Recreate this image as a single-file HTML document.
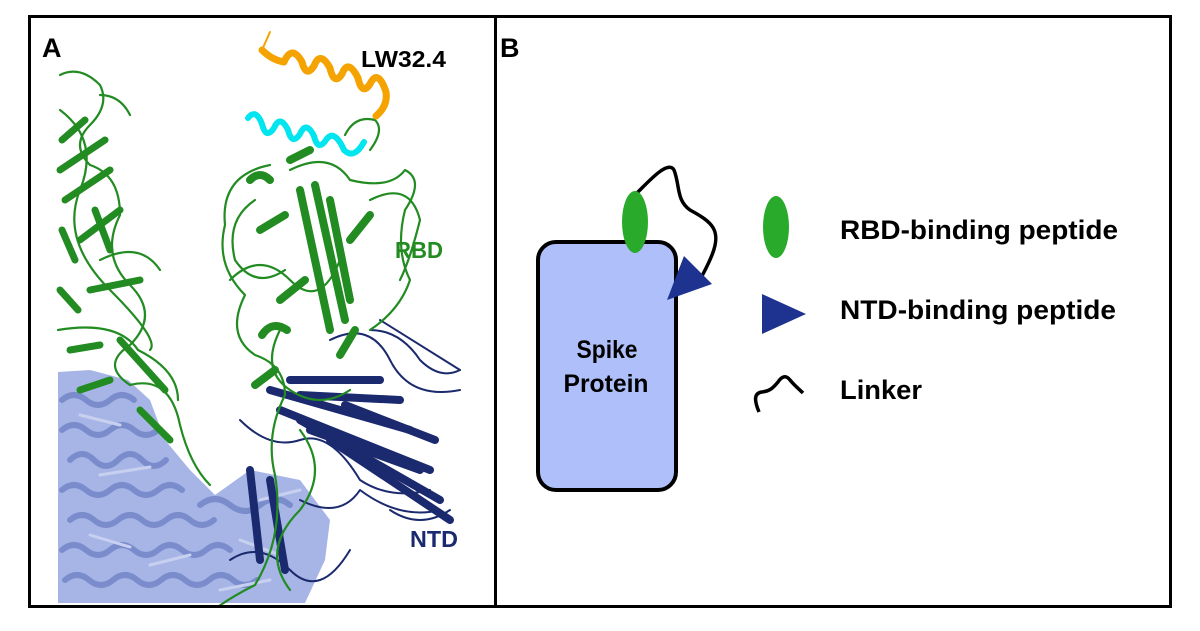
<!DOCTYPE html>
<html><head><meta charset="utf-8"><style>
html,body{margin:0;padding:0;background:#fff;}
svg{display:block;}
</style></head><body>
<svg width="1200" height="631" viewBox="0 0 1200 631" xmlns="http://www.w3.org/2000/svg">
<defs><clipPath id="cA"><rect x="31" y="18" width="463" height="587"/></clipPath></defs>
<rect width="1200" height="631" fill="#fff"/>
<g clip-path="url(#cA)" fill="none" stroke-linecap="round" stroke-linejoin="round">
  <!-- light blue mass -->
  <path d="M58,372 L90,370 L128,380 L150,400 L165,440 L190,470 L215,495 L250,470 L300,480 L330,520 L325,560 L305,603 L58,603 Z" fill="#a7b5e6" stroke="none"/>
  <g stroke="#7a8ccc" stroke-width="6">
    <path d="M62,400 q12,-10 24,0 t24,0 t24,0"/><path d="M62,430 q12,-10 24,0 t24,0 t24,0 t24,0"/>
    <path d="M70,460 q12,-12 24,0 t24,0 t24,0 t24,0"/><path d="M62,490 q12,-10 24,0 t24,0 t24,0 t24,0 t24,0"/>
    <path d="M70,520 q12,-10 24,0 t24,0 t24,0 t24,0 t24,0 t24,0"/><path d="M62,550 q12,-10 24,0 t24,0 t24,0 t24,0 t24,0 t24,0 t24,0"/>
    <path d="M65,580 q12,-10 24,0 t24,0 t24,0 t24,0 t24,0 t24,0 t24,0 t24,0"/><path d="M200,505 q15,-12 30,0 t30,0 t30,0"/>
  </g>
  <g stroke="#c8d0f0" stroke-width="3">
    <path d="M80,415 l40,10"/><path d="M100,475 l50,-8"/><path d="M90,535 l40,12"/><path d="M150,565 l40,-10"/><path d="M240,540 l40,15"/><path d="M260,500 l40,-10"/><path d="M220,590 l50,-10"/>
  </g>
  <!-- navy NTD -->
  <g stroke="#1b2a6e" stroke-width="8">
    <path d="M270,390 L410,430"/><path d="M280,410 L430,470"/><path d="M300,420 L440,500"/>
    <path d="M330,440 L450,520"/><path d="M300,395 L400,400"/><path d="M345,405 L435,440"/>
    <path d="M250,470 L260,560"/><path d="M270,480 L285,570"/><path d="M310,430 L420,470"/><path d="M290,380 L380,380"/>
  </g>
  <g stroke="#1b2a6e" stroke-width="2">
    <path d="M330,340 q40,-20 60,20 t70,30"/><path d="M370,330 q30,0 50,30 q20,20 40,10"/>
    <path d="M240,420 q30,30 60,20 t60,40 q30,20 70,10"/><path d="M300,500 q40,20 60,-10 q40,30 80,20"/>
    <path d="M390,510 q30,20 60,0"/><path d="M230,560 q30,-20 60,10 t60,-20"/><path d="M380,320 l80,50"/>
  </g>
  <!-- green left -->
  <g stroke="#228b22" stroke-width="7">
    <path d="M62,140 L85,120"/><path d="M60,170 L105,140"/><path d="M65,200 L110,170"/><path d="M80,240 L120,210"/>
    <path d="M90,290 L140,280"/><path d="M70,350 L100,345"/><path d="M120,340 L165,390"/><path d="M80,390 L110,380"/>
    <path d="M62,230 L75,260"/><path d="M95,210 L110,250"/><path d="M60,290 L78,310"/><path d="M140,410 L170,440"/>
  </g>
  <g stroke="#228b22" stroke-width="2.2">
    <path d="M60,75 q20,-10 40,10 q10,20 -10,40 q-20,20 0,40 q30,10 30,50 q-20,40 10,70 q30,30 0,60 q-30,20 0,40 q40,-10 50,40 q10,40 30,60"/>
    <path d="M60,110 q40,30 20,80 t30,100 t40,60"/><path d="M100,95 q20,0 30,20"/>
    <path d="M58,330 q60,-10 80,20 q40,20 40,50"/><path d="M100,260 q40,-20 60,10"/>
  </g>
  <!-- green RBD -->
  <g stroke="#228b22" stroke-width="8">
    <path d="M300,190 L330,330"/><path d="M315,185 L345,320"/><path d="M330,200 L350,300"/>
    <path d="M260,230 L285,215"/><path d="M280,300 L305,280"/><path d="M340,355 L355,330"/><path d="M255,385 L275,370"/>
    <path d="M250,180 q10,-10 20,0"/><path d="M290,160 L310,150"/><path d="M262,335 q10,-15 25,-5"/><path d="M350,240 L370,215"/>
  </g>
  <g stroke="#228b22" stroke-width="2.2">
    <path d="M270,165 q-50,10 -45,60 q-10,40 20,70 q-20,40 10,60 q30,10 30,40 q-20,40 -10,80 q10,60 -20,110 q-60,30 -70,60"/>
    <path d="M290,170 q40,-20 60,10 q40,10 55,-10 q20,10 0,40 q-10,40 5,70 q-10,30 -40,50"/>
    <path d="M255,200 q-30,20 -20,60 q20,30 50,10"/><path d="M280,330 q-20,40 10,60 q30,20 60,0"/>
    <path d="M300,430 q30,40 0,80 q-40,40 -10,80"/><path d="M345,135 q10,-20 30,-15 q10,10 -5,30"/>
    <path d="M230,280 q30,-30 60,0 q30,30 50,-20"/><path d="M370,200 q40,-20 50,20 q-10,40 -20,60"/>
  </g>
  <!-- cyan helix -->
  <g stroke="#00e5ee" stroke-width="6">
    <path d="M248,118 q8,-10 14,6 q4,16 12,4 q6,-14 14,2 q4,16 12,4 q6,-14 14,2 q4,16 12,4 q8,-12 18,10 q10,10 20,-8"/>
  </g>
  <!-- orange helix -->
  <g stroke="#f4a300" stroke-width="7">
    <path d="M262,50 q10,10 22,12 q8,-18 18,0 q4,16 12,4 q6,-16 16,2 q4,18 12,6 q6,-16 16,4 q4,18 12,6 q8,-16 16,8 q2,14 -10,24"/>
    <path d="M262,50 L270,32" stroke-width="2"/>
  </g>
</g>
<!-- frames -->
<rect x="29.5" y="16.5" width="1141" height="590" fill="none" stroke="#000" stroke-width="3"/>
<line x1="495.5" y1="16" x2="495.5" y2="607" stroke="#000" stroke-width="3"/>
<g font-family="'Liberation Sans', sans-serif" font-weight="bold">
<text x="42" y="57" font-size="27" fill="#000">A</text>
<text x="361" y="67" font-size="23" fill="#000" textLength="85" lengthAdjust="spacingAndGlyphs">LW32.4</text>
<text x="395" y="258" font-size="23" fill="#228b22" textLength="48" lengthAdjust="spacingAndGlyphs">RBD</text>
<text x="410" y="547" font-size="23" fill="#1b2a6e" textLength="48" lengthAdjust="spacingAndGlyphs">NTD</text>
<text x="500" y="57" font-size="27" fill="#000">B</text>
</g>
<rect x="538" y="242" width="138" height="248" rx="18" ry="18" fill="#aebffa" stroke="#000" stroke-width="4"/>
<path d="M637,193 C650,180 668,160 674,170 C680,185 676,200 690,210 C712,222 722,230 712,255 C708,265 704,272 702,276" fill="none" stroke="#000" stroke-width="3.5"/>
<ellipse cx="635" cy="222" rx="13" ry="31" fill="#2aaa2a"/>
<polygon points="667,300 712,284 684,256" fill="#1e3290"/>
<g font-family="'Liberation Sans', sans-serif" font-weight="bold" fill="#000">
<text x="607" y="358" font-size="25" text-anchor="middle" textLength="61" lengthAdjust="spacingAndGlyphs">Spike</text>
<text x="606" y="392" font-size="25" text-anchor="middle" textLength="85" lengthAdjust="spacingAndGlyphs">Protein</text>
</g>
<ellipse cx="776" cy="227" rx="13" ry="31" fill="#2aaa2a"/>
<polygon points="762,294 806,314 762,334" fill="#1e3290"/>
<path d="M759,412 C754,400 754,393 762,392 C770,391 773,388 778,382 C782,376 786,375 790,380 C795,386 800,390 803,393" fill="none" stroke="#000" stroke-width="3.5"/>
<g font-family="'Liberation Sans', sans-serif" font-weight="bold" fill="#000" font-size="27">
<text x="840" y="239" textLength="278" lengthAdjust="spacingAndGlyphs">RBD-binding peptide</text>
<text x="840" y="319" textLength="276" lengthAdjust="spacingAndGlyphs">NTD-binding peptide</text>
<text x="840" y="399" textLength="82" lengthAdjust="spacingAndGlyphs">Linker</text>
</g>
</svg>
</body></html>
